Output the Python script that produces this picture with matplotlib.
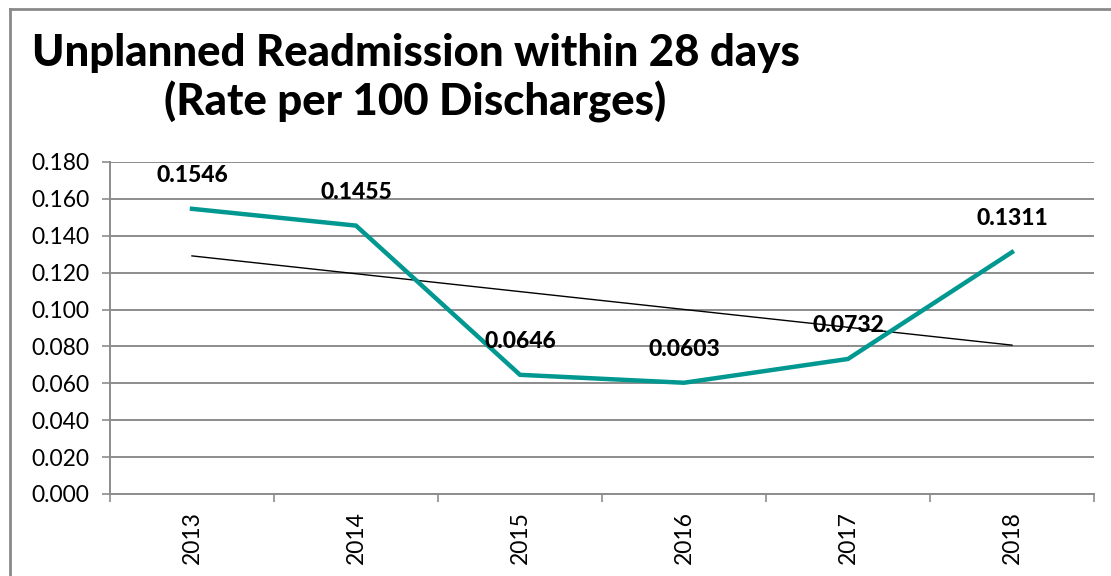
import numpy as np
import matplotlib
matplotlib.use("Agg")
import matplotlib.pyplot as plt
from matplotlib.lines import Line2D
from matplotlib.ticker import FormatStrFormatter, FixedLocator

# Data
years = ["2013", "2014", "2015", "2016", "2017", "2018"]
rates = [0.1546, 0.1455, 0.0646, 0.0603, 0.0732, 0.1311]
rate_labels = ["0.1546", "0.1455", "0.0646", "0.0603", "0.0732", "0.1311"]
title = "Unplanned Readmission within 28 days\n(Rate per 100 Discharges)"

TEAL = "#009890"
GRID = "#8c8c8c"

plt.rcParams['font.family'] = ['Lato', 'DejaVu Sans']

fig = plt.figure(figsize=(11.11, 5.76), dpi=100)
ax = fig.add_axes([0.099, 0.1424, 0.8857, 0.5764])

x = np.arange(len(years))
ax.plot(x, rates, color=TEAL, lw=3.2, solid_joinstyle='miter', zorder=3)

# linear trend line
slope, icpt = np.polyfit(x, rates, 1)
ax.plot(x, slope * x + icpt, color="black", lw=1.0, zorder=2)

for xi, v, lab in zip(x, rates, rate_labels):
    ax.annotate(lab, (xi, v), xytext=(0, 24), textcoords="offset points",
                ha="center", va="center", fontsize=16.5, fontweight="black",
                color="black", zorder=4)

ax.set_xlim(-0.5, len(years) - 0.5)
ax.set_ylim(0, 0.18)
ax.set_yticks(np.arange(0, 0.1801, 0.02))
ax.yaxis.set_major_formatter(FormatStrFormatter("%.3f"))
ax.grid(axis="y", color=GRID, lw=1.4)
ax.set_axisbelow(True)

ax.xaxis.set_major_locator(FixedLocator(np.arange(-0.5, len(years))))
ax.set_xticklabels([])
ax.set_xticks(x, minor=True)
ax.set_xticklabels(years, minor=True, rotation=90, fontsize=16.5)
ax.tick_params(axis="x", which="major", length=6, width=1.2, color=GRID)
ax.tick_params(axis="x", which="minor", length=0, pad=12)
ax.tick_params(axis="y", length=6, width=1.2, color=GRID, labelsize=16.5, pad=9)

for s in ["top", "right"]:
    ax.spines[s].set_visible(False)
for s in ["left", "bottom"]:
    ax.spines[s].set_color(GRID)
    ax.spines[s].set_linewidth(1.4)

fig.text(0.374, 0.864, title, ha="center", va="center", fontsize=31.5,
         fontweight="black", linespacing=1.22)

# outer frame (top and left only visible in crop)
fig.add_artist(Line2D([0.009, 1.0], [0.984, 0.984], color="#8a8a8a", lw=2))
fig.add_artist(Line2D([0.009, 0.009], [0.0, 0.984], color="#8a8a8a", lw=2))

fig.savefig("out.png", dpi=100)
